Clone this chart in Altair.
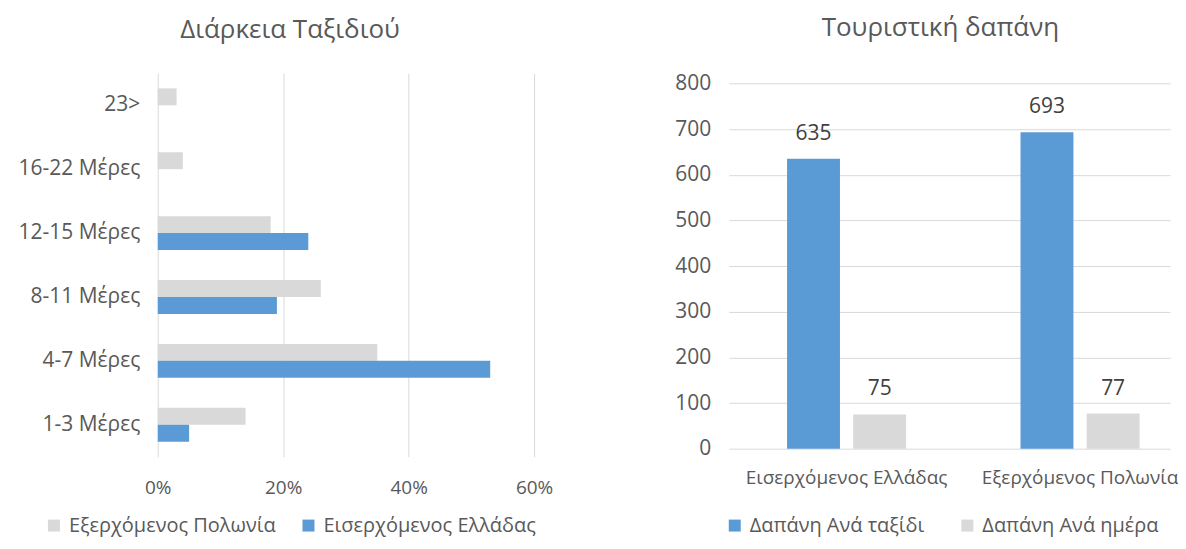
import altair as alt
import pandas as pd

# ---- Left chart data: trip duration ----
dur_cats = ["23>", "16-22 Μέρες", "12-15 Μέρες", "8-11 Μέρες", "4-7 Μέρες", "1-3 Μέρες"]
dur_series = ["Εξερχόμενος Πολωνία", "Εισερχόμενος Ελλάδας"]
poland_pct = [3, 4, 18, 26, 35, 14]
greece_pct = [0, 0, 24, 19, 53, 5]
pct_ticks = [0, 0.2, 0.4, 0.6]

# ---- Right chart data: tourist spending ----
spend_cats = ["Εισερχόμενος Ελλάδας", "Εξερχόμενος Πολωνία"]
spend_series = ["Δαπάνη Ανά ταξίδι", "Δαπάνη Ανά ημέρα"]
per_trip = [635, 693]
per_day = [75, 77]
spend_ticks = [0, 100, 200, 300, 400, 500, 600, 700, 800]

BLUE = "#5b9bd5"
GRAY = "#d9d9d9"
TXT = "#595959"
FONT = "Open Sans"

left_df = pd.DataFrame({
    "cat": dur_cats + dur_cats,
    "series": [dur_series[0]] * len(dur_cats) + [dur_series[1]] * len(dur_cats),
    "value": [v / 100 for v in poland_pct + greece_pct],
})

right_df = pd.DataFrame({
    "cat": spend_cats + spend_cats,
    "series": [spend_series[0]] * len(spend_cats) + [spend_series[1]] * len(spend_cats),
    "value": per_trip + per_day,
})

left = alt.Chart(left_df).mark_bar().encode(
    y=alt.Y("cat:N", sort=dur_cats,
            scale=alt.Scale(paddingInner=0.47, paddingOuter=0.235),
            axis=alt.Axis(title=None, labelFontSize=21, labelColor=TXT, labelPadding=18,
                          ticks=False, domain=False, labelLimit=300,
                          minExtent=150, maxExtent=150)),
    yOffset=alt.YOffset("series:N", sort=dur_series, scale=alt.Scale(paddingInner=0, paddingOuter=0)),
    x=alt.X("value:Q", scale=alt.Scale(domain=[0, 0.6], nice=False),
            axis=alt.Axis(title=None, format="%", values=pct_ticks, grid=True, gridColor=GRAY,
                          domain=False, ticks=False, labelFontSize=19, labelColor=TXT,
                          labelPadding=22, labelFlush=False)),
    color=alt.Color("series:N", sort=dur_series,
                    scale=alt.Scale(domain=dur_series, range=[GRAY, BLUE]),
                    legend=alt.Legend(title=None, orient="none", direction="horizontal",
                                      legendX=-114, legendY=443, symbolType="square",
                                      symbolSize=144, symbolStrokeWidth=0, labelOffset=5,
                                      labelFontSize=20, labelColor=TXT, labelLimit=400,
                                      columnPadding=22)),
).properties(
    width=377, height=384,
    title=alt.TitleParams("Διάρκεια Ταξιδιού", anchor="middle", dx=-56, offset=30,
                          fontSize=26, color=TXT, fontWeight="normal", font=FONT),
)

base = alt.Chart(right_df).encode(
    x=alt.X("cat:N", sort=spend_cats,
            scale=alt.Scale(paddingInner=0.49, paddingOuter=0.19, align=0.657),
            axis=alt.Axis(title=None, labelAngle=0, labelFontSize=19, labelColor=TXT,
                          ticks=False, domain=False, labelPadding=20, labelLimit=400)),
    xOffset=alt.XOffset("series:N", sort=spend_series, scale=alt.Scale(paddingInner=0.2, paddingOuter=0)),
    y=alt.Y("value:Q", scale=alt.Scale(domain=[0, 822], nice=False),
            axis=alt.Axis(title=None, values=spend_ticks, grid=True, gridColor=GRAY,
                          domain=False, ticks=False, labelFontSize=21, labelColor=TXT,
                          labelPadding=18, minExtent=55, maxExtent=55)),
)

bars = base.mark_bar().encode(
    color=alt.Color("series:N", sort=spend_series,
                    scale=alt.Scale(domain=spend_series, range=[BLUE, GRAY]),
                    legend=alt.Legend(title=None, orient="none", direction="horizontal",
                                      legendX=-4, legendY=443, symbolType="square",
                                      symbolSize=144, symbolStrokeWidth=0, labelOffset=5,
                                      labelFontSize=20, labelColor=TXT, labelLimit=400,
                                      columnPadding=33)),
)
labels = base.mark_text(baseline="bottom", dy=-15, fontSize=21, color="#404040", font=FONT).encode(
    text=alt.Text("value:Q")
)

right = alt.layer(bars, labels).properties(
    width=442, height=376,
    title=alt.TitleParams("Τουριστική δαπάνη", anchor="middle", dx=-9, offset=31,
                          fontSize=26, color=TXT, fontWeight="normal", font=FONT),
)

chart = alt.hconcat(left, right, spacing=121).resolve_scale(color="independent").properties(
    padding={"left": 0, "top": 7, "right": 0, "bottom": 5},
    background="white",
).configure(font=FONT).configure_view(stroke="transparent", strokeWidth=0)

chart.save("out.html", embed_options={"renderer": "svg", "actions": False})
